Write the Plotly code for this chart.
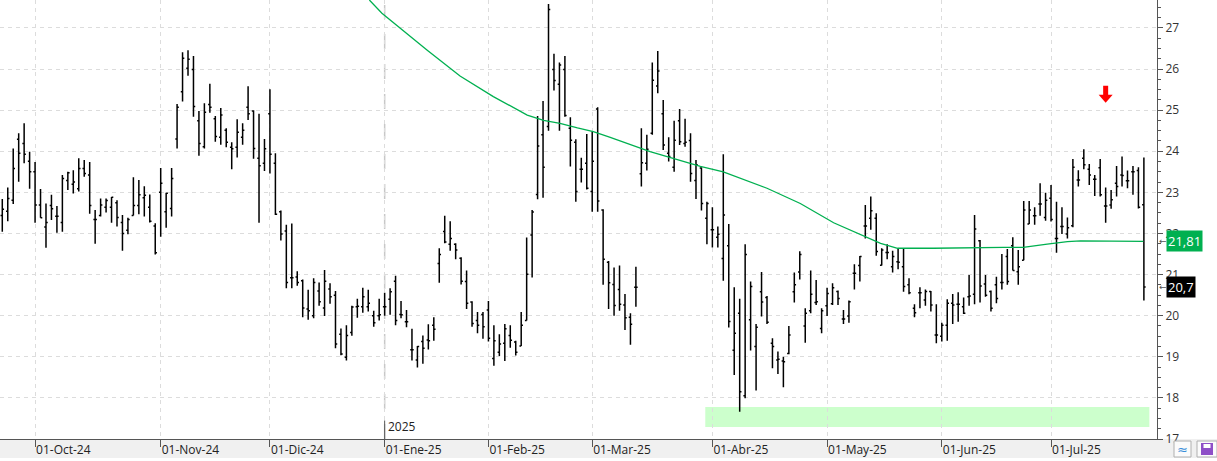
import plotly.graph_objects as go

# ---------------- data ----------------
bar_open = [22.44,22.54,22.81,24.29,24.19,23.76,23.50,22.69,22.16,22.68,22.42,22.27,23.29,23.20,23.09,23.58,23.42,22.34,22.44,22.64,
            22.64,22.75,22.27,22.08,22.44,22.68,22.87,22.64,22.18,23.00,22.53,22.61,24.30,25.45,26.02,25.99,24.74,24.11,25.14,24.79,
            24.34,24.51,24.10,24.10,24.34,25.07,24.98,23.83,23.71,24.91,23.71,22.53,22.06,20.92,20.94,20.85,20.16,20.00,20.60,20.19,
            20.65,20.50,19.55,18.99,19.59,20.22,20.22,20.22,20.00,20.00,20.22,20.40,20.84,20.03,19.85,19.17,18.92,19.37,19.41,19.77,
            21.27,22.05,21.74,21.74,21.40,20.83,20.33,19.88,20.03,20.14,18.96,19.11,19.33,19.52,19.36,19.26,19.88,21.96,22.95,24.40,
            24.60,25.99,25.63,25.99,24.56,24.22,23.56,23.71,23.02,25.03,22.57,21.30,20.76,20.64,20.26,19.96,20.69,23.45,23.71,24.44,
            25.59,24.91,23.95,23.61,24.74,24.19,24.26,23.29,23.59,22.37,22.09,21.91,21.39,21.70,19.16,20.06,18.05,19.90,19.25,20.58,
            20.44,19.33,18.92,18.90,19.08,20.58,21.06,19.75,20.12,20.32,19.69,20.24,20.29,20.59,19.92,19.99,21.03,21.22,22.18,22.37,
            22.37,21.23,21.54,21.19,21.31,21.19,20.75,20.18,20.56,20.38,20.59,19.53,19.50,19.77,20.30,20.28,20.22,20.46,20.52,21.82,
            20.77,20.59,20.75,20.81,21.44,21.70,21.07,21.35,22.23,22.43,22.72,22.39,22.86,21.88,22.17,21.99,22.19,23.30,23.83,23.56,
            23.32,23.60,22.67,22.69,23.22,23.42,23.28,23.50,23.53,22.70]
bar_high = [22.84,23.12,24.07,24.44,24.68,23.99,23.74,23.08,22.73,22.94,22.67,23.42,23.50,23.54,23.83,23.79,23.74,22.57,22.85,22.85,
            22.89,22.81,22.45,22.38,23.37,23.30,23.15,22.95,22.25,23.59,22.99,23.59,25.15,26.41,26.46,26.32,24.98,25.17,25.64,24.86,
            25.05,24.56,24.22,24.78,24.68,25.58,25.00,24.91,24.30,25.51,23.95,22.56,22.21,22.24,21.08,20.88,20.63,20.91,20.81,21.11,
            20.79,20.60,19.69,19.77,20.24,20.41,20.68,20.63,20.12,20.41,20.56,20.67,20.97,20.36,20.14,19.68,19.26,19.52,19.79,19.96,
            21.64,22.43,22.30,21.76,21.42,21.10,20.35,20.09,20.09,20.36,19.77,19.55,19.80,19.77,19.39,20.09,21.90,22.57,24.86,25.22,
            27.58,26.37,26.16,26.32,24.83,24.29,23.84,24.42,24.48,25.07,22.59,21.33,21.17,21.22,20.53,20.06,21.19,24.56,24.40,26.16,
            26.44,25.25,24.34,24.74,25.03,24.79,24.44,23.79,23.61,22.77,22.64,22.17,23.93,22.23,20.69,20.41,21.74,20.83,19.80,21.06,
            20.48,19.45,19.13,19.00,19.75,21.05,21.57,20.18,21.10,20.87,20.18,20.68,20.79,20.61,20.14,20.37,21.25,21.45,22.69,22.90,
            22.49,21.64,21.74,21.58,21.62,21.62,20.91,20.28,20.69,20.64,20.60,20.28,19.83,20.40,20.53,20.57,20.44,20.99,22.45,21.84,
            20.99,20.61,20.95,21.50,21.62,21.91,21.60,22.79,22.79,22.64,23.22,22.99,23.18,22.77,22.64,22.39,23.81,23.54,24.05,23.69,
            23.42,23.81,23.12,23.06,23.64,23.87,23.53,23.64,23.61,23.85]
bar_low = [22.04,22.30,22.72,23.26,23.71,23.09,22.26,22.38,21.65,22.33,22.02,22.04,23.06,22.97,23.02,23.38,22.48,21.75,22.41,22.51,
           22.26,22.17,21.58,21.98,22.44,22.47,22.41,22.27,21.49,21.92,22.14,22.41,24.07,25.21,25.84,24.84,23.89,24.07,24.94,24.23,
           24.16,24.10,23.56,23.85,24.16,24.76,23.82,22.26,23.52,23.46,22.45,21.83,20.67,20.67,20.73,19.96,19.90,19.94,20.24,19.99,
           20.29,19.21,19.04,18.91,19.51,19.95,20.07,20.10,19.73,19.88,20.00,20.02,19.77,19.94,19.72,18.91,18.74,18.83,19.18,19.39,
           20.80,21.76,21.58,21.37,20.76,20.16,19.73,19.57,19.44,19.37,18.78,19.02,18.90,19.22,19.03,19.26,19.88,20.93,22.83,22.87,
           24.50,25.48,24.50,24.84,23.63,22.77,23.24,23.07,22.53,22.53,20.75,20.16,20.00,20.12,19.65,19.29,20.22,23.14,23.53,24.40,
           25.41,24.03,23.75,23.50,24.15,24.11,23.26,22.84,22.56,21.74,21.66,21.66,20.85,19.71,18.56,17.66,17.99,19.15,18.18,19.98,
           19.80,18.72,18.58,18.26,19.06,20.32,20.88,19.34,20.06,20.26,19.57,19.99,20.26,20.26,19.80,19.83,20.64,20.83,21.88,22.09,
           21.46,21.22,21.37,21.05,21.13,20.58,20.52,19.96,20.18,20.24,20.10,19.33,19.37,19.39,19.80,19.85,20.04,20.24,20.28,20.32,
           20.46,20.10,20.30,20.64,20.75,21.10,20.75,21.35,22.23,22.21,22.43,22.31,22.29,21.53,21.99,21.88,22.15,23.14,23.56,23.18,
           22.91,22.90,22.26,22.60,22.90,23.14,23.10,22.94,22.61,20.37]
bar_close = [22.59,22.85,23.58,23.95,23.93,23.50,22.69,22.38,22.27,22.60,22.42,23.34,23.48,23.25,23.58,23.46,22.68,22.34,22.69,22.80,
             22.88,22.39,22.00,22.34,22.68,22.94,22.93,22.30,21.53,23.22,22.98,23.34,25.07,26.26,26.24,25.09,24.19,24.95,25.07,24.36,
             24.88,24.22,24.06,24.46,24.51,24.91,24.07,23.65,24.06,23.93,22.47,21.99,20.81,20.92,20.81,20.19,20.12,20.81,20.34,20.84,
             20.46,19.31,19.07,19.52,20.21,20.23,20.46,20.30,19.83,20.02,20.22,20.58,19.88,20.02,19.85,19.17,19.25,19.21,19.39,19.67,
             21.49,21.79,21.88,21.60,20.84,20.30,19.81,19.77,19.73,19.45,19.39,19.31,19.68,19.40,19.11,19.77,21.01,22.52,24.13,23.61,
             27.45,25.72,26.10,24.87,24.27,23.02,23.56,23.10,23.76,22.79,21.37,20.80,20.25,20.28,19.95,19.79,20.69,23.72,24.05,25.73,
             25.95,24.15,23.87,24.27,24.23,24.22,23.46,23.67,22.73,22.73,22.09,21.98,22.45,19.86,19.57,18.15,21.49,20.71,19.72,20.33,
             19.84,19.25,18.94,18.88,19.53,20.75,21.49,20.06,20.52,20.34,20.12,20.54,20.68,20.42,19.92,20.34,21.03,21.44,22.18,22.55,
             21.56,21.60,21.54,21.44,21.30,20.71,20.56,20.07,20.56,20.59,20.26,19.53,19.77,20.30,20.26,20.28,20.06,20.48,22.11,20.72,
             20.50,20.18,20.42,20.81,20.83,21.10,21.19,22.57,22.57,22.43,22.72,22.81,22.34,21.88,22.17,22.14,23.61,23.30,23.67,23.42,
             23.32,22.94,22.67,22.82,23.14,23.41,23.28,23.50,22.64,20.70]
bar_index = list(range(len(bar_open)))

# moving average (sampled along the curve)
sma_idx = [67.2, 69.5, 77.8, 83.8, 89.9, 93.0, 96.1, 99.1, 102.1, 105.3, 108.2, 111.3, 118.6, 127.8, 132.0,
           140.0, 146.1, 152.2, 158.4, 160.8, 163.9, 170.5, 183.3, 186.9, 191.3, 195.0, 197.4, 208.9]
sma_val = [27.68, 27.36, 26.46, 25.83, 25.33, 25.10, 24.88, 24.75, 24.68, 24.57, 24.48, 24.34, 23.99, 23.63, 23.50,
           23.10, 22.73, 22.26, 21.91, 21.76, 21.64, 21.64, 21.66, 21.66, 21.74, 21.80, 21.82, 21.81]

month_idx = [6, 29, 49, 70, 89, 108, 130, 151, 172, 192]
month_labels = ["01-Oct-24", "01-Nov-24", "01-Dic-24", "01-Ene-25", "01-Feb-25",
                "01-Mar-25", "01-Abr-25", "01-May-25", "01-Jun-25", "01-Jul-25"]
year_idx = 70
year_label = "2025"

zone_start, zone_end, zone_low, zone_high = 128.7, 210.0, 17.29, 17.78
signal_idx, signal_price = 202, 25.18
last_sma_label = "21,81"
last_close_label = "20,7"

# ---------------- figure ----------------
GRID = "#dcdcdc"
AX = "#555555"
FONT = "Open Sans"

fig = go.Figure()
fig.add_trace(go.Ohlc(
    x=bar_index, open=bar_open, high=bar_high, low=bar_low, close=bar_close,
    increasing=dict(line=dict(color="black", width=1.5)),
    decreasing=dict(line=dict(color="black", width=1.5)),
    tickwidth=0.32, showlegend=False, hoverinfo="skip"))
fig.add_trace(go.Scatter(x=sma_idx, y=sma_val, mode="lines",
                         line=dict(color="#00b050", width=1.3), showlegend=False, hoverinfo="skip"))

shapes = []
# support zone
shapes.append(dict(type="rect", xref="x", yref="y", x0=zone_start, x1=zone_end, y0=zone_low, y1=zone_high,
                   fillcolor="#ccffcc", line=dict(width=0), layer="below"))
# year separator
shapes.append(dict(type="line", xref="x", yref="y", x0=year_idx, x1=year_idx, y0=17, y1=27.56,
                   line=dict(color="#c8c8c8", width=1.5, dash="longdash"), layer="below"))
shapes.append(dict(type="line", xref="x", yref="y", x0=year_idx, x1=year_idx, y0=17, y1=17.45,
                   line=dict(color=AX, width=1)))
# red signal arrow: block arrow, tip anchored at the signal point, sized in pixels
shapes.append(dict(type="path", xref="x", yref="y", xsizemode="pixel", ysizemode="pixel",
                   xanchor=signal_idx, yanchor=signal_price,
                   path="M0,0 L-7,8 L-2.5,8 L-2.5,17 L2.5,17 L2.5,8 L7,8 Z",
                   fillcolor="#ff0000", line=dict(width=0)))
# bottom band
shapes.append(dict(type="rect", xref="paper", yref="paper", x0=0, x1=1217 / 1157, y0=-19 / 439, y1=0,
                   fillcolor="#f0f0f0", line=dict(width=0), layer="below"))
# little toolbar buttons
shapes.append(dict(type="rect", xref="paper", yref="paper", x0=1174 / 1157, x1=1191 / 1157,
                   y0=-18 / 439, y1=-2 / 439, fillcolor="#fbfbfb", line=dict(color="#b0b0b0", width=1)))
shapes.append(dict(type="rect", xref="paper", yref="paper", x0=1197 / 1157, x1=1217 / 1157,
                   y0=-18 / 439, y1=-2 / 439, fillcolor="#fbfbfb", line=dict(color="#b0b0b0", width=1)))
shapes.append(dict(type="rect", xref="paper", yref="paper", x0=1201 / 1157, x1=1213 / 1157,
                   y0=-16 / 439, y1=-4 / 439, fillcolor="#8e4fc7", line=dict(width=0)))
shapes.append(dict(type="rect", xref="paper", yref="paper", x0=1203.5 / 1157, x1=1210.5 / 1157,
                   y0=-9 / 439, y1=-5 / 439, fillcolor="white", line=dict(width=0)))

annotations = []
annotations.append(dict(x=year_idx, y=17.05, xref="x", yref="y", text=year_label, showarrow=False,
                        xanchor="left", yanchor="bottom", xshift=1, font=dict(family=FONT, size=12, color="#222")))
annotations.append(dict(x=1166 / 1157, y=21.81, xref="paper", yref="y", text=last_sma_label, showarrow=False,
                        xanchor="left", yanchor="middle", bgcolor="#00b050", borderpad=1,
                        font=dict(family=FONT, size=13, color="white")))
annotations.append(dict(x=1166 / 1157, y=20.7, xref="paper", yref="y", text=last_close_label, showarrow=False,
                        xanchor="left", yanchor="middle", bgcolor="black", borderpad=1,
                        font=dict(family=FONT, size=13, color="white")))
for v in (21.81, 20.7):
    annotations.append(dict(x=1157 / 1157, y=v, xref="paper", yref="y", text="←", showarrow=False,
                            xanchor="left", yanchor="middle", font=dict(family="DejaVu Sans", size=9, color="#555")))
annotations.append(dict(x=1182.5 / 1157, y=-10 / 439, xref="paper", yref="paper", text="≈", showarrow=False,
                        xanchor="center", yanchor="middle", font=dict(family="DejaVu Sans", size=13, color="#3a8fd9")))

fig.update_layout(
    width=1217, height=461,
    margin=dict(l=0, r=60, t=0, b=22),
    paper_bgcolor="white", plot_bgcolor="white",
    font=dict(family=FONT, size=12, color="#222"),
    showlegend=False, hovermode=False,
    shapes=shapes, annotations=annotations,
    xaxis=dict(
        range=[-0.42, 211.4], rangeslider=dict(visible=False),
        tickmode="array", tickvals=month_idx, ticktext=month_labels,
        ticks="outside", ticklen=7, tickcolor=AX, tickwidth=1,
        ticklabelposition="outside right",
        tickfont=dict(family=FONT, size=12, color="#222"),
        showline=True, linecolor=AX, linewidth=1,
        showgrid=True, gridcolor=GRID, griddash="4px,4px", gridwidth=1,
        zeroline=False, fixedrange=True),
    yaxis=dict(
        side="right", range=[17.0, 27.68],
        tick0=17, dtick=1, ticks="outside", ticklen=5, tickcolor=AX,
        minor=dict(dtick=0.25, ticks="outside", ticklen=3, tickcolor=AX, showgrid=False),
        tickfont=dict(family=FONT, size=12, color="#333"),
        showline=True, linecolor=AX, linewidth=1,
        showgrid=True, gridcolor=GRID, griddash="4px,4px", gridwidth=1,
        zeroline=False, fixedrange=True),
)

fig.write_html("out.html")
